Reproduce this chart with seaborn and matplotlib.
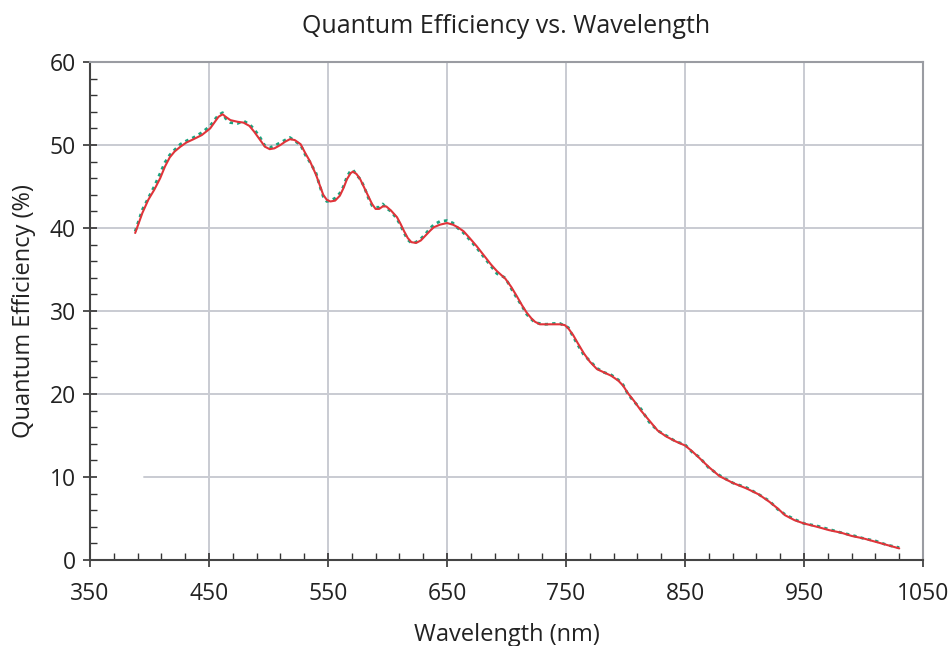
import matplotlib

matplotlib.use("Agg")
import matplotlib.pyplot as plt
import numpy as np
import pandas as pd
import seaborn as sns
from matplotlib.ticker import MultipleLocator

# Wavelength (nm) and quantum efficiency (%)
wavelength = [388, 394, 399, 404, 409, 413, 417, 421, 426, 431, 437, 444, 451, 455, 458, 461.5,
              464, 468, 474, 479, 484, 488, 493, 497, 501, 505, 510, 514, 518, 522, 527, 531,
              535, 540, 543, 546, 549, 552, 556, 560, 563, 566, 569, 571, 574, 577, 580, 584,
              587, 590, 593, 596, 599, 603, 608, 611, 614, 617, 620, 624, 628, 632, 636, 639,
              644, 650, 655, 659, 664, 669, 675, 681, 687, 692, 699, 704, 709, 713, 717, 721,
              724, 728, 733, 740, 745, 749, 752, 756, 760, 765, 770, 776, 782, 788, 794, 798,
              802, 807, 813, 820, 827, 834, 842, 850, 856, 862, 870, 879, 890, 902, 912, 921,
              928, 934, 942, 950, 961, 971, 981, 990, 1000, 1010, 1020, 1030]
qe_fit = [39.4, 41.8, 43.4, 44.6, 46.0, 47.4, 48.5, 49.2, 49.8, 50.3, 50.7, 51.2, 52.0, 52.8, 53.4, 53.7,
          53.4, 53.0, 52.8, 52.7, 52.3, 51.6, 50.6, 49.8, 49.5, 49.6, 50.0, 50.4, 50.7, 50.6, 50.1, 49.0,
          48.0, 46.4, 45.2, 44.0, 43.4, 43.2, 43.3, 43.9, 44.8, 45.9, 46.6, 46.8, 46.5, 45.9, 45.0, 43.8,
          42.9, 42.3, 42.3, 42.6, 42.6, 42.1, 41.3, 40.5, 39.6, 38.8, 38.3, 38.2, 38.5, 39.1, 39.7, 40.1,
          40.4, 40.6, 40.4, 40.1, 39.6, 38.8, 37.8, 36.7, 35.6, 34.8, 33.9, 32.9, 31.7, 30.7, 29.8, 29.1,
          28.7, 28.4, 28.4, 28.4, 28.4, 28.3, 27.9, 27.1, 26.1, 24.9, 23.9, 23.0, 22.6, 22.2, 21.6, 21.0,
          20.1, 19.2, 18.0, 16.8, 15.6, 14.9, 14.3, 13.8, 13.1, 12.3, 11.2, 10.1, 9.3, 8.6, 7.9, 7.0,
          6.2, 5.4, 4.8, 4.4, 4.0, 3.6, 3.3, 2.9, 2.6, 2.2, 1.8, 1.4]
qe_meas = [39.6, 42.2, 43.6, 45.0, 46.6, 47.9, 48.8, 49.4, 50.1, 50.5, 50.9, 51.5, 52.3, 53.1, 53.6, 53.9,
           53.2, 52.7, 52.6, 52.9, 52.5, 51.9, 50.9, 49.9, 49.7, 49.9, 50.3, 50.6, 50.9, 50.5, 50.0, 48.8,
           47.9, 46.6, 45.1, 43.8, 43.2, 43.3, 43.6, 44.2, 45.0, 46.2, 46.9, 47.0, 46.4, 45.9, 45.1, 43.6,
           42.7, 42.5, 42.5, 42.9, 42.4, 42.0, 41.1, 40.3, 39.4, 38.6, 38.2, 38.3, 38.7, 39.3, 40.0, 40.4,
           40.8, 40.9, 40.6, 40.0, 39.4, 38.6, 37.6, 36.5, 35.4, 34.5, 34.0, 32.7, 31.5, 30.6, 29.6, 29.0,
           28.6, 28.5, 28.4, 28.5, 28.5, 28.2, 28.0, 26.9, 25.9, 24.7, 24.0, 23.1, 22.6, 22.3, 21.7, 21.1,
           20.0, 19.1, 18.2, 16.6, 15.6, 15.0, 14.3, 13.9, 13.0, 12.4, 11.1, 10.2, 9.3, 8.7, 7.9, 7.1,
           6.1, 5.5, 4.9, 4.4, 4.1, 3.7, 3.3, 3.0, 2.6, 2.3, 1.8, 1.5]

df = pd.DataFrame({"wavelength": wavelength, "fit": qe_fit, "meas": qe_meas})

sns.set_theme(style="white")
plt.rcParams["font.family"] = ["Open Sans", "DejaVu Sans"]

fig = plt.figure(figsize=(9.51, 6.46), dpi=100)
ax = fig.add_axes([0.0946, 0.1331, 0.8760, 0.7709])

grid_color = "#c9cbd2"
for x in [450, 550, 650, 750, 850, 950]:
    ax.axvline(x, color=grid_color, linewidth=1.4, zorder=0)
for y in [20, 30, 40, 50]:
    ax.axhline(y, color=grid_color, linewidth=1.4, zorder=0)
# the 10 % line starts a little right of the axis in the original
ax.axhline(10, xmin=(395 - 350) / 700, color=grid_color, linewidth=1.4, zorder=0)

sns.lineplot(data=df, x="wavelength", y="meas", ax=ax, color="#1aa37f",
             linewidth=2.0, linestyle=(0, (1.2, 1.5)), zorder=2)
sns.lineplot(data=df, x="wavelength", y="fit", ax=ax, color="#e0343a",
             linewidth=1.5, zorder=3)

ax.set_xlim(350, 1050)
ax.set_ylim(0, 60)
ax.xaxis.set_major_locator(MultipleLocator(100, offset=50))
ax.xaxis.set_minor_locator(MultipleLocator(20, offset=10))
ax.yaxis.set_major_locator(MultipleLocator(10))
ax.yaxis.set_minor_locator(MultipleLocator(2))

ax.tick_params(axis="both", which="major", direction="inout", length=10, width=1.2,
               color="#333333", labelsize=16.5, labelcolor="#222222", pad=5,
               bottom=True, left=True)
ax.tick_params(axis="x", which="major", pad=11)
ax.tick_params(axis="both", which="minor", direction="in", length=5, width=1.0,
               color="#333333", bottom=True, left=True)

for side in ["left", "bottom"]:
    ax.spines[side].set_color("#444444")
    ax.spines[side].set_linewidth(1.5)
for side in ["top", "right"]:
    ax.spines[side].set_visible(True)
    ax.spines[side].set_color("#9a9ca2")
    ax.spines[side].set_linewidth(1.5)

ax.set_xlabel("Wavelength (nm)", fontsize=17, color="#222222", labelpad=12)
ax.set_ylabel("Quantum Efficiency (%)", fontsize=17, color="#222222", labelpad=10)
ax.set_title("Quantum Efficiency vs. Wavelength", fontsize=18, color="#222222", pad=21)

fig.savefig("out.png", dpi=100)
